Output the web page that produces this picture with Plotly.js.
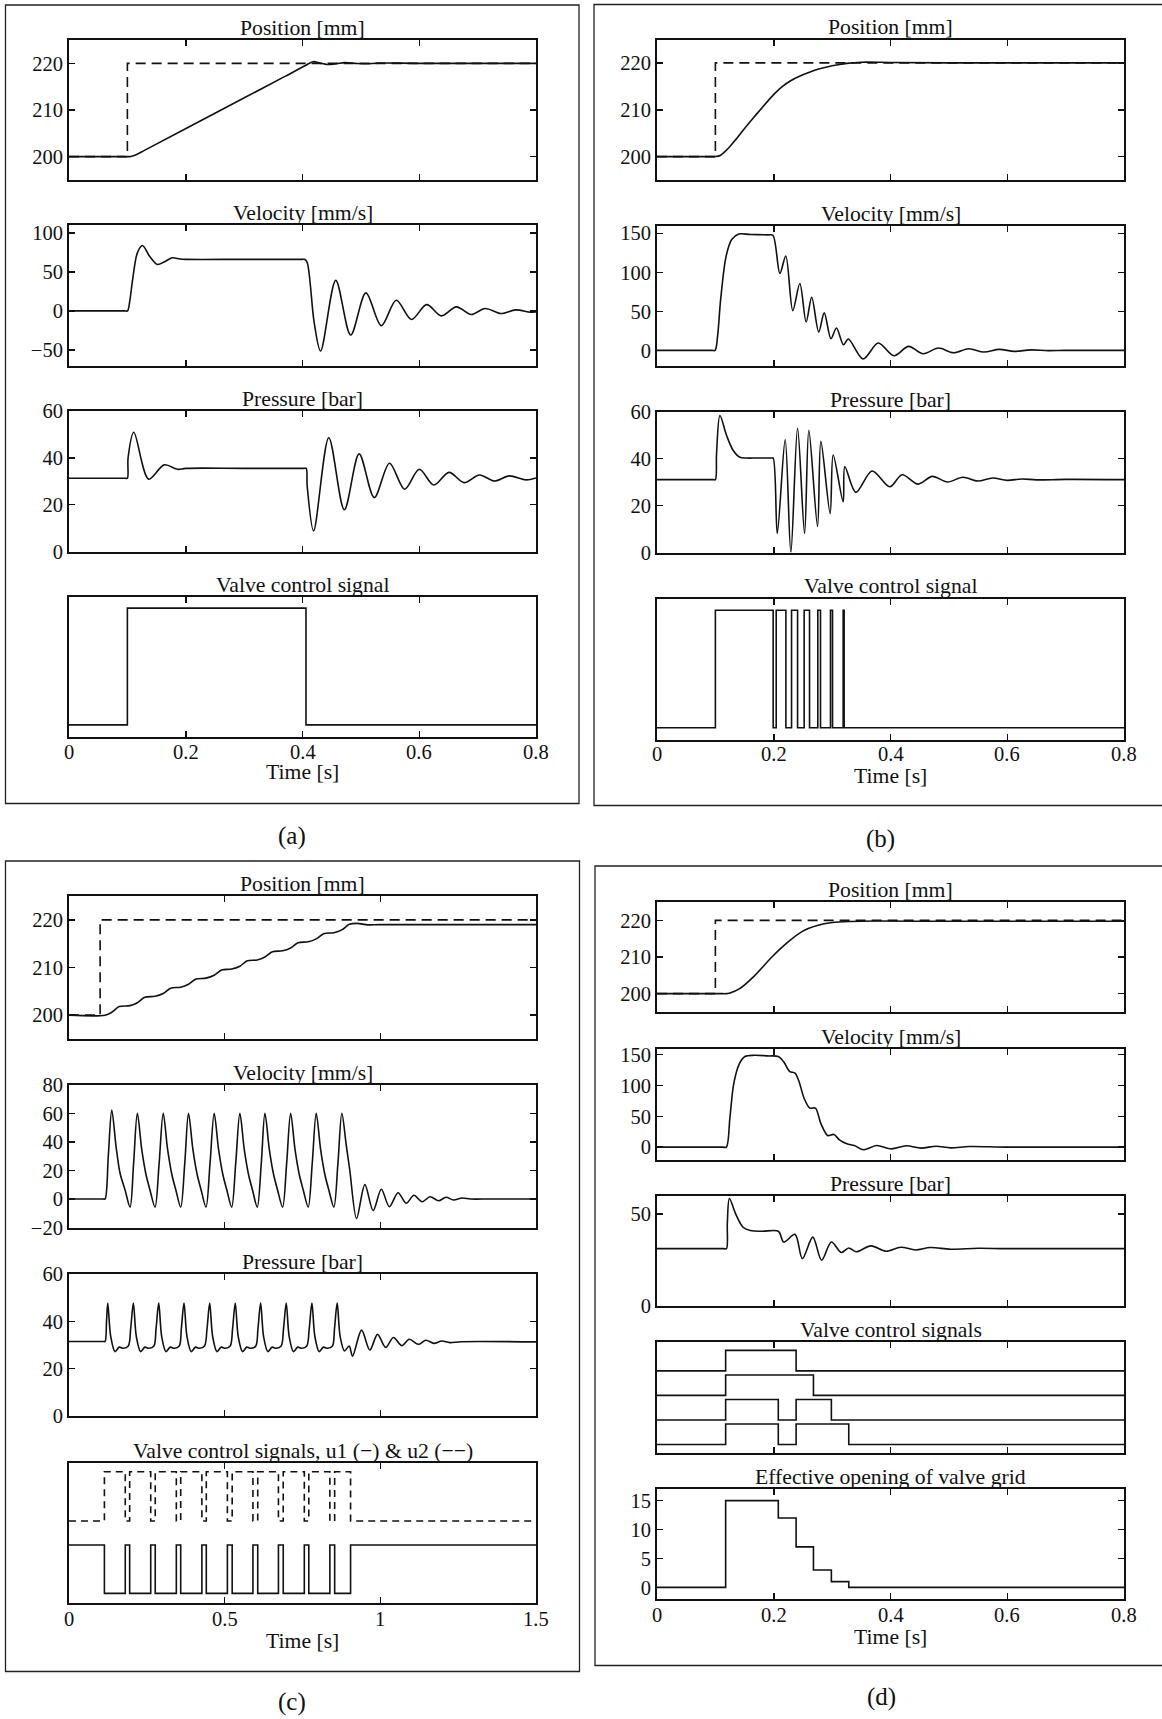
<!DOCTYPE html>
<html>
<head>
<meta charset="utf-8">
<script src="https://cdn.plot.ly/plotly-3.0.1.min.js"></script>
<style>
  html, body { margin: 0; padding: 0; background: #fff; }
  #chart { width: 1162px; height: 1719px; }
</style>
</head>
<body>
<div id="chart"></div>
<script>
// ---------------- DATA ----------------
// Panel (a)
const refA_t = [0, 0.1, 0.1, 0.8];
const refA_v = [200, 200, 220, 220];
const posA_t = [0, 0.095, 0.1, 0.106, 0.115, 0.13, 0.25, 0.37, 0.405, 0.418, 0.43, 0.442, 0.458, 0.472, 0.49, 0.51, 0.53, 0.6, 0.8];
const posA_v = [200, 200, 200, 200.05, 200.4, 201.4, 209.3, 217.2, 219.55, 220.35, 220.05, 219.75, 219.9, 220.15, 220.0, 219.9, 220.05, 220.0, 220.0];
const velA_t = [0, 0.095, 0.1003, 0.104, 0.109, 0.117, 0.1257, 0.138, 0.151, 0.164, 0.1765, 0.19, 0.2, 0.3, 0.4, 0.4035, 0.408, 0.42, 0.431, 0.457, 0.4825, 0.5086, 0.535, 0.5606, 0.5867, 0.6127, 0.638, 0.6635, 0.689, 0.713, 0.74, 0.765, 0.79, 0.8];
const velA_v = [0, 0, 0, 12, 40, 74, 83.7, 70, 59.5, 63, 68, 66.5, 66, 66, 66, 66, 62, -15, -51.4, 39.1, -31, 23, -19, 13.6, -11, 8, -6.4, 5.1, -4.7, 3, -3.4, 1.3, -1.6, -1.5];
const presA_t = [0, 0.096, 0.1, 0.1012, 0.111, 0.1365, 0.163, 0.186, 0.2, 0.3, 0.402, 0.4063, 0.408, 0.419, 0.445, 0.4717, 0.497, 0.523, 0.549, 0.575, 0.6, 0.625, 0.651, 0.677, 0.703, 0.729, 0.754, 0.783, 0.8];
const presA_v = [31.3, 31.3, 31.3, 40, 50.9, 30.9, 37, 35.1, 35.5, 35.5, 35.5, 35.5, 28, 8.8, 48.6, 17.8, 41.7, 23, 37.7, 26.6, 35.1, 28.4, 33.8, 29.4, 32.7, 30.1, 32.3, 30.6, 31.4];
const valveA_t = [0, 0.1, 0.406, 0.8];
const valveA_v = [0, 1, 0, 0];

// Panel (b)
const refB_t = [0, 0.1, 0.1, 0.8];
const refB_v = [200, 200, 220, 220];
const posB_t = [0, 0.095, 0.1, 0.109, 0.12, 0.134, 0.15, 0.166, 0.201, 0.215, 0.229, 0.245, 0.261, 0.277, 0.293, 0.31, 0.325, 0.35, 0.4, 0.5, 0.8];
const posB_v = [200, 200, 200, 200.3, 201.5, 203.5, 206, 208.4, 213.4, 215, 216.2, 217.2, 218, 218.7, 219.2, 219.6, 219.9, 220.15, 220.1, 220.0, 220.0];
const velB_t = [0, 0.094, 0.0995, 0.104, 0.109, 0.1185, 0.128, 0.14, 0.16, 0.19, 0.1985, 0.2105, 0.2206, 0.2326, 0.2447, 0.2555, 0.265, 0.277, 0.2865, 0.298, 0.3074, 0.3195, 0.3277, 0.353, 0.379, 0.4057, 0.431, 0.456, 0.482, 0.508, 0.534, 0.56, 0.586, 0.612, 0.64, 0.67, 0.7, 0.8];
const velB_v = [0, 0, 0, 20, 65, 121, 142, 149, 148.5, 148, 147.5, 98.6, 121, 51, 85.7, 36.4, 68, 23.6, 48, 15, 28.7, 7.3, 14.6, -11, 9.4, -6.9, 5.1, -4.3, 3, -3, 2.1, -2.1, 1.3, -1.2, 0.6, -0.3, 0, 0];
const presB_t = [0, 0.096, 0.1, 0.102, 0.1078, 0.1192, 0.1306, 0.142, 0.153, 0.17, 0.196, 0.199, 0.206, 0.2196, 0.2293, 0.2408, 0.2528, 0.2601, 0.275, 0.2807, 0.2966, 0.3018, 0.3189, 0.3218, 0.3406, 0.3685, 0.3988, 0.4199, 0.4473, 0.4716, 0.4976, 0.524, 0.5496, 0.575, 0.6, 0.625, 0.65, 0.7, 0.8];
const presB_v = [31, 31, 31, 42, 58.3, 49.8, 43.4, 40.5, 40.2, 40.2, 40.2, 40.2, 8.1, 48.1, 0, 52.9, 8.1, 52, 11.1, 47.3, 16.6, 41.5, 21.6, 36.5, 25.6, 34.7, 28, 33.1, 29.1, 32.4, 30, 32, 30.4, 31.7, 30.7, 31.3, 30.9, 31.1, 31];
const valveB_t = [0, 0.1, 0.199, 0.2042, 0.2208, 0.2305, 0.2408, 0.2521, 0.2613, 0.2755, 0.2801, 0.2972, 0.3007, 0.3189, 0.3206, 0.8];
const valveB_v = [0, 1, 0, 1, 0, 1, 0, 1, 0, 1, 0, 1, 0, 1, 0, 0];

// Panel (c)
const refC_t = [0, 0.1, 0.1, 1.5];
const refC_v = [200, 200, 220, 220];
const posC_t = [0, 0.1159, 0.1373, 0.1613, 0.1961, 0.2195, 0.2435, 0.2763, 0.3026, 0.3266, 0.3588, 0.3838, 0.4078, 0.44, 0.4663, 0.4903, 0.5225, 0.5488, 0.5728, 0.6046, 0.6293, 0.6533, 0.6861, 0.7118, 0.7358, 0.7683, 0.794, 0.818, 0.8508, 0.8764, 0.9004, 0.925, 0.96, 1.0, 1.5];
const posC_v = [200, 200, 200.6, 201.8, 202.0, 202.6, 203.75, 203.95, 204.55, 205.67, 205.87, 206.47, 207.57, 207.77, 208.37, 209.48, 209.68, 210.28, 211.39, 211.59, 212.19, 213.3, 213.5, 214.1, 215.2, 215.4, 216.0, 217.1, 217.3, 217.9, 219.05, 219.25, 218.95, 219.0, 219.0];
const velC_t = [0, 0.11, 0.1159, 0.1262, 0.1373, 0.1512, 0.164, 0.18, 0.1961,
  0.2075, 0.2195, 0.2335, 0.2475, 0.2605, 0.2763,
  0.2895, 0.3026, 0.3166, 0.3306, 0.3436, 0.3588,
  0.3718, 0.3838, 0.3978, 0.4118, 0.4248, 0.44,
  0.453, 0.4663, 0.4803, 0.4943, 0.5073, 0.5225,
  0.5355, 0.5488, 0.5628, 0.5768, 0.5898, 0.6046,
  0.6176, 0.6293, 0.6433, 0.6573, 0.6703, 0.6861,
  0.6991, 0.7118, 0.7258, 0.7398, 0.7528, 0.7683,
  0.7813, 0.794, 0.808, 0.822, 0.835, 0.8508,
  0.8638, 0.8764, 0.8904, 0.902, 0.9236, 0.9503, 0.9769, 1.0032, 1.029, 1.057, 1.083, 1.108, 1.134, 1.16, 1.187, 1.211, 1.235, 1.262, 1.29, 1.35, 1.5];
const velC_v = [0, 0, 0, 30, 62.5, 36.8, 18.1, 6.4, -5.7,
  25, 60.2, 35, 17, 6, -5.7,
  25, 60.2, 35, 17, 6, -5.7,
  25, 60.2, 35, 17, 6, -5.7,
  25, 60.2, 35, 17, 6, -5.7,
  25, 60.2, 35, 17, 6, -5.7,
  25, 60.2, 35, 17, 6, -5.7,
  25, 60.2, 35, 17, 6, -5.7,
  25, 60.2, 35, 17, 6, -5.7,
  25, 60.2, 38, 20, -13.7, 10.1, -8.1, 6.8, -5.4, 4.4, -3, 2.6, -1.9, 1.6, -1.2, 1.2, -0.7, 0.7, 0, 0, 0];
const presC_t = [0, 0.11, 0.1159, 0.1205, 0.1245,
  0.134, 0.148, 0.1615, 0.1745, 0.1905, 0.1982, 0.2067,
  0.2162, 0.2302, 0.2437, 0.2567, 0.2727, 0.2797, 0.2882,
  0.2977, 0.3117, 0.3252, 0.3382, 0.3542, 0.3609, 0.3694,
  0.3789, 0.3929, 0.4064, 0.4194, 0.4354, 0.4434, 0.4519,
  0.4614, 0.4754, 0.4889, 0.5019, 0.5179, 0.5255, 0.534,
  0.5435, 0.5575, 0.571, 0.584, 0.6, 0.607, 0.6155,
  0.625, 0.639, 0.6525, 0.6655, 0.6815, 0.6892, 0.6977,
  0.7072, 0.7212, 0.7347, 0.7477, 0.7637, 0.7717, 0.7802,
  0.7897, 0.8037, 0.8172, 0.8302, 0.8462, 0.8529, 0.8614,
  0.8709, 0.8849, 0.8999, 0.9108, 0.9397, 0.9663, 0.991, 1.017, 1.042, 1.069, 1.093, 1.122, 1.146, 1.172, 1.197, 1.223, 1.26, 1.5];
const presC_v = [31.5, 31.5, 31.5, 40, 47.7,
  33.6, 27.2, 29.1, 28.6, 29.6, 37, 47.7,
  33.6, 27.2, 29.1, 28.6, 29.6, 37, 47.7,
  33.6, 27.2, 29.1, 28.6, 29.6, 37, 47.7,
  33.6, 27.2, 29.1, 28.6, 29.6, 37, 47.7,
  33.6, 27.2, 29.1, 28.6, 29.6, 37, 47.7,
  33.6, 27.2, 29.1, 28.6, 29.6, 37, 47.7,
  33.6, 27.2, 29.1, 28.6, 29.6, 37, 47.7,
  33.6, 27.2, 29.1, 28.6, 29.6, 37, 47.7,
  33.6, 27.2, 29.1, 28.6, 29.6, 37, 47.7,
  33.6, 27.5, 29.6, 25.3, 36.3, 27.9, 34.5, 29, 33.2, 29.7, 32.4, 30.3, 32, 30.7, 31.7, 31, 31.4, 31.3];
const u1C_t = [0, 0.1137, 0.1807, 0.1948, 0.2625, 0.277, 0.3447, 0.3588, 0.4268, 0.441, 0.5087, 0.5241, 0.5908, 0.6062, 0.6727, 0.6881, 0.7558, 0.7702, 0.8379, 0.8533, 0.9044, 1.5];
const u1C_v = [1, 0, 1, 0, 1, 0, 1, 0, 1, 0, 1, 0, 1, 0, 1, 0, 1, 0, 1, 0, 1, 1];
const u2C_t = [0, 0.1137, 0.1807, 0.1948, 0.2625, 0.277, 0.3447, 0.3588, 0.4268, 0.441, 0.5087, 0.5241, 0.5908, 0.6062, 0.6727, 0.6881, 0.7558, 0.7702, 0.8379, 0.8533, 0.9044, 1.5];
const u2C_v = [1.5, 2.52, 1.5, 2.52, 1.5, 2.52, 1.5, 2.52, 1.5, 2.52, 1.5, 2.52, 1.5, 2.52, 1.5, 2.52, 1.5, 2.52, 1.5, 2.52, 1.5, 1.5];

// Panel (d)
const refD_t = [0, 0.1, 0.1, 0.8];
const refD_v = [200, 200, 220, 220];
const posD_t = [0, 0.113, 0.118, 0.125, 0.141, 0.1665, 0.198, 0.2237, 0.249, 0.2745, 0.3, 0.332, 0.376, 0.45, 0.8];
const posD_v = [200, 200, 200, 200.2, 201.3, 204.8, 210.2, 214, 217, 218.6, 219.4, 219.7, 219.8, 219.75, 219.75];
const velD_t = [0, 0.113, 0.1188, 0.125, 0.1315, 0.141, 0.1506, 0.1665, 0.19, 0.2078, 0.2173, 0.227, 0.2364, 0.2427, 0.2523, 0.2618, 0.2713, 0.2809, 0.2923, 0.303, 0.3126, 0.3253, 0.338, 0.354, 0.376, 0.4016, 0.427, 0.4524, 0.478, 0.503, 0.535, 0.6, 0.8];
const velD_v = [0, 0, 0, 48.7, 103, 135, 147, 149, 148, 147, 138, 123, 120, 108, 78.5, 63.3, 63.3, 37.9, 19, 20.6, 11.9, 5.4, 2.7, -4.3, 2.7, -2.7, 2.2, -1.6, 1.6, -1.1, 1.1, 0, 0];
const presD_t = [0, 0.114, 0.119, 0.1205, 0.124, 0.1347, 0.1474, 0.16, 0.18, 0.2078, 0.2173, 0.2364, 0.249, 0.2669, 0.282, 0.2987, 0.3158, 0.3285, 0.341, 0.3666, 0.392, 0.4175, 0.443, 0.468, 0.503, 0.55, 0.6, 0.8];
const presD_v = [31, 31, 31, 45, 58.4, 50, 42.7, 40.9, 40.5, 40.5, 34.6, 38.8, 25.6, 37.3, 24.7, 34.6, 28.9, 31.4, 29.3, 32.5, 29.6, 31.8, 30.3, 31.6, 30.7, 31.2, 31, 31];
const sig1D_t = [0, 0.1176, 0.2383, 0.8];
const sig1D_v = [3.6, 4.6, 3.6, 3.6];
const sig2D_t = [0, 0.1176, 0.268, 0.8];
const sig2D_v = [2.4, 3.4, 2.4, 2.4];
const sig3D_t = [0, 0.1176, 0.2078, 0.2383, 0.2987, 0.8];
const sig3D_v = [1.2, 2.2, 1.2, 2.2, 1.2, 1.2];
const sig4D_t = [0, 0.1176, 0.2078, 0.2383, 0.3285, 0.8];
const sig4D_v = [0, 1, 0, 1, 0, 0];
const effD_t = [0, 0.1176, 0.2078, 0.2383, 0.268, 0.2987, 0.3285, 0.8];
const effD_v = [0, 15, 12, 7, 3, 1, 0, 0];

// Tick labels / axis values
const tickTime08 = [0, 0.2, 0.4, 0.6, 0.8];
const tickTime15 = [0, 0.5, 1, 1.5];
const tickPos = [200, 210, 220];
const tickVelA = [-50, 0, 50, 100];
const tickVelB = [0, 50, 100, 150];
const tickVelC = [-20, 0, 20, 40, 60, 80];
const tickPres = [0, 20, 40, 60];
const tickPresD = [0, 50];
const tickEff = [0, 5, 10, 15];

// ---------------- LAYOUT ----------------
const W = 1162, H = 1719;
const FONT = 'Liberation Serif, Times New Roman, serif';
const INK = '#111';
const TITLE_SIZE = 21.7, TICK_SIZE = 20.5;
const xd = (a, b) => [a / W, b / W];
const yd = (top, bot) => [1 - bot / H, 1 - top / H];

const XA = [69, 536], XB = [657, 1124];
// subplot specs: x pixel span, y pixel span, x range, x ticks, x-label row (px) or null, y range, y ticks, title
const subs = [
  {xp: XA, yp: [40, 180], xr: [0, 0.8], xt: tickTime08, xl: null, yr: [195, 225], yt: tickPos, title: 'Position [mm]'},
  {xp: XA, yp: [225, 365.5], xr: [0, 0.8], xt: tickTime08, xl: null, yr: [-70, 110], yt: tickVelA, title: 'Velocity [mm/s]'},
  {xp: XA, yp: [411, 551.5], xr: [0, 0.8], xt: tickTime08, xl: null, yr: [0, 60], yt: tickPres, title: 'Pressure [bar]'},
  {xp: XA, yp: [596.5, 736.5], xr: [0, 0.8], xt: tickTime08, xl: 752.5, yr: [-0.1, 1.1], yt: null, title: 'Valve control signal'},
  {xp: XB, yp: [39.5, 180], xr: [0, 0.8], xt: tickTime08, xl: null, yr: [195, 225], yt: tickPos, title: 'Position [mm]'},
  {xp: XB, yp: [225.5, 366], xr: [0, 0.8], xt: tickTime08, xl: null, yr: [-20, 160], yt: tickVelB, title: 'Velocity [mm/s]'},
  {xp: XB, yp: [411.5, 552.5], xr: [0, 0.8], xt: tickTime08, xl: null, yr: [0, 60], yt: tickPres, title: 'Pressure [bar]'},
  {xp: XB, yp: [598.5, 739.5], xr: [0, 0.8], xt: tickTime08, xl: 754.5, yr: [-0.1, 1.1], yt: null, title: 'Valve control signal'},
  {xp: XA, yp: [896, 1039], xr: [0, 1.5], xt: tickTime15, xl: null, yr: [195, 225], yt: tickPos, title: 'Position [mm]'},
  {xp: XA, yp: [1085, 1227.5], xr: [0, 1.5], xt: tickTime15, xl: null, yr: [-20, 80], yt: tickVelC, title: 'Velocity [mm/s]'},
  {xp: XA, yp: [1274, 1416], xr: [0, 1.5], xt: tickTime15, xl: null, yr: [0, 60], yt: tickPres, title: 'Pressure [bar]'},
  {xp: XA, yp: [1463, 1603], xr: [0, 1.5], xt: tickTime15, xl: 1619, yr: [-0.2, 2.7], yt: null, title: 'Valve control signals, u1 (\u2212) & u2 (\u2212\u2212)'},
  {xp: XB, yp: [902, 1012], xr: [0, 0.8], xt: tickTime08, xl: null, yr: [195, 225], yt: tickPos, title: 'Position [mm]'},
  {xp: XB, yp: [1048.5, 1159.5], xr: [0, 0.8], xt: tickTime08, xl: null, yr: [-20, 160], yt: tickVelB, title: 'Velocity [mm/s]'},
  {xp: XB, yp: [1195.5, 1305.5], xr: [0, 0.8], xt: tickTime08, xl: null, yr: [0, 60], yt: tickPresD, title: 'Pressure [bar]'},
  {xp: XB, yp: [1342, 1452.5], xr: [0, 0.8], xt: tickTime08, xl: null, yr: [-0.39, 5.01], yt: null, title: 'Valve control signals'},
  {xp: XB, yp: [1489, 1599], xr: [0, 0.8], xt: tickTime08, xl: 1614.5, yr: [-2, 17], yt: tickEff, title: 'Effective opening of valve grid'}
];

const layout = {
  width: W, height: H,
  margin: {l: 0, r: 0, t: 0, b: 0, pad: 0},
  paper_bgcolor: '#fff', plot_bgcolor: '#fff',
  showlegend: false,
  font: {family: FONT, size: TICK_SIZE, color: INK},
  shapes: [], annotations: []
};

const annot = (text, xpx, ypx, size) => ({
  text: text, xref: 'paper', yref: 'paper', x: xpx / W, y: 1 - ypx / H,
  xanchor: 'center', yanchor: 'middle', showarrow: false,
  font: {family: FONT, size: size, color: INK}
});

subs.forEach((s, i) => {
  const n = i + 1;
  const sfx = n === 1 ? '' : String(n);
  layout['xaxis' + sfx] = {
    domain: xd(s.xp[0], s.xp[1]), anchor: 'y' + sfx,
    range: s.xr, tickmode: 'array', tickvals: s.xt,
    showticklabels: false, ticks: 'inside', ticklen: 6, tickwidth: 1.5, tickcolor: INK,
    showline: true, linewidth: 2, linecolor: INK, mirror: 'ticks',
    showgrid: false, zeroline: false, fixedrange: true
  };
  const ya = {
    domain: yd(s.yp[0], s.yp[1]), anchor: 'x' + sfx,
    range: s.yr, showline: true, linewidth: 2, linecolor: INK,
    showgrid: false, zeroline: false, fixedrange: true,
    tickfont: {family: FONT, size: TICK_SIZE, color: INK}
  };
  if (s.yt) {
    Object.assign(ya, {tickmode: 'array', tickvals: s.yt, ticks: 'inside', ticklen: 6, tickwidth: 1.5, tickcolor: INK, mirror: 'ticks', showticklabels: true});
  } else {
    Object.assign(ya, {ticks: '', showticklabels: false, mirror: true});
  }
  layout['yaxis' + sfx] = ya;
  layout.annotations.push(annot(s.title, (s.xp[0] + s.xp[1]) / 2, s.yp[0] - 12, TITLE_SIZE));
  // x tick labels on the bottom subplot of each panel, placed through the x axis scale
  if (s.xl !== null) {
    s.xt.forEach(v => layout.annotations.push({
      text: String(v), xref: 'x' + sfx, yref: 'paper', x: v, y: 1 - s.xl / H,
      xanchor: 'center', yanchor: 'middle', showarrow: false,
      font: {family: FONT, size: TICK_SIZE, color: INK}
    }));
  }
});

// x-axis titles and captions
layout.annotations.push(annot('Time [s]', 302.5, 772, TITLE_SIZE));
layout.annotations.push(annot('Time [s]', 890.5, 775.5, TITLE_SIZE));
layout.annotations.push(annot('Time [s]', 302.5, 1640.5, TITLE_SIZE));
layout.annotations.push(annot('Time [s]', 890.5, 1636.5, TITLE_SIZE));
layout.annotations.push(annot('(a)', 292, 836, 25));
layout.annotations.push(annot('(b)', 880, 838.5, 25));
layout.annotations.push(annot('(c)', 292.5, 1702, 25));
layout.annotations.push(annot('(d)', 881, 1697, 25));

// panel frames
const frame = (x0, y0, x1, y1) => ({
  type: 'rect', xref: 'paper', yref: 'paper',
  x0: x0 / W, x1: x1 / W, y0: 1 - y1 / H, y1: 1 - y0 / H,
  line: {color: '#222', width: 1.3}, fillcolor: 'rgba(0,0,0,0)', layer: 'below'
});
layout.shapes.push(frame(5.5, 5, 579, 803.5));
layout.shapes.push(frame(594, 4.5, 1172, 805.5));
layout.shapes.push(frame(5.5, 861, 579.5, 1671.5));
layout.shapes.push(frame(595, 866, 1172, 1665.5));

// ---------------- TRACES ----------------
const traces = [];
const ax = n => ({xaxis: 'x' + (n === 1 ? '' : n), yaxis: 'y' + (n === 1 ? '' : n)});
const smooth = (t, v, n) => Object.assign({x: t, y: v, type: 'scatter', mode: 'lines', hoverinfo: 'skip',
  line: {color: INK, width: 1.6, shape: 'spline', smoothing: 0.9}}, ax(n));
const step = (t, v, n, dash) => Object.assign({x: t, y: v, type: 'scatter', mode: 'lines', hoverinfo: 'skip',
  line: {color: INK, width: 1.6, shape: 'hv', dash: dash || 'solid'}}, ax(n));
const refl = (t, v, n) => Object.assign({x: t, y: v, type: 'scatter', mode: 'lines', hoverinfo: 'skip',
  line: {color: INK, width: 1.6, dash: '10px,6px'}}, ax(n));

// (a)
traces.push(smooth(posA_t, posA_v, 1), refl(refA_t, refA_v, 1));
traces.push(smooth(velA_t, velA_v, 2));
traces.push(smooth(presA_t, presA_v, 3));
traces.push(step(valveA_t, valveA_v, 4));
// (b)
traces.push(smooth(posB_t, posB_v, 5), refl(refB_t, refB_v, 5));
traces.push(smooth(velB_t, velB_v, 6));
traces.push(smooth(presB_t, presB_v, 7));
traces.push(step(valveB_t, valveB_v, 8));
// (c)
traces.push(smooth(posC_t, posC_v, 9), refl(refC_t, refC_v, 9));
traces.push(smooth(velC_t, velC_v, 10));
traces.push(smooth(presC_t, presC_v, 11));
traces.push(step(u2C_t, u2C_v, 12, '7px,5px'));
traces.push(step(u1C_t, u1C_v, 12));
// (d)
traces.push(smooth(posD_t, posD_v, 13), refl(refD_t, refD_v, 13));
traces.push(smooth(velD_t, velD_v, 14));
traces.push(smooth(presD_t, presD_v, 15));
traces.push(step(sig1D_t, sig1D_v, 16), step(sig2D_t, sig2D_v, 16), step(sig3D_t, sig3D_v, 16), step(sig4D_t, sig4D_v, 16));
traces.push(step(effD_t, effD_v, 17));

traces.forEach(tr => { if (tr.x.length !== tr.y.length) console.error('length mismatch', tr.xaxis, tr.x.length, tr.y.length); });

Plotly.newPlot('chart', traces, layout, {staticPlot: true, displayModeBar: false});
</script>
</body>
</html>
